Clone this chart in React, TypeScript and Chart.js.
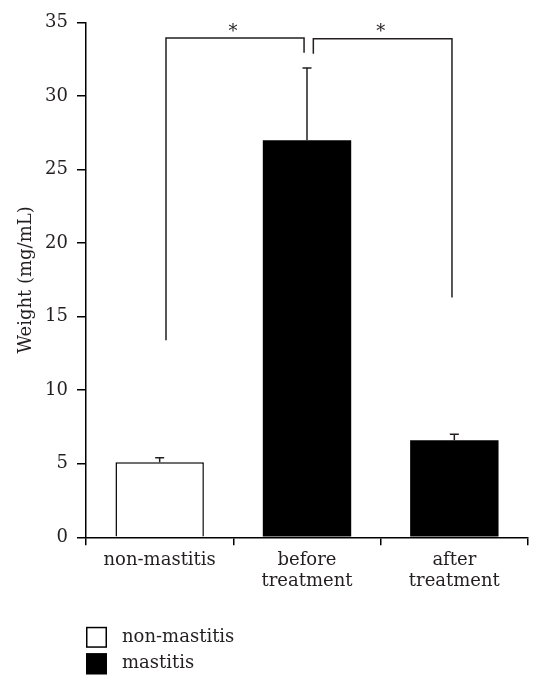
import React, { useEffect, useRef } from 'react';
import { Chart, registerables } from 'chart.js';

Chart.register(...registerables);

const categories: (string | string[])[] = ['non-mastitis', ['before', 'treatment'], ['after', 'treatment']];
const nonMastitisValues: (number | null)[] = [5.1, null, null];
const mastitisValues: (number | null)[] = [null, 27.0, 6.6];
const errorValues: number[] = [0.3, 4.9, 0.4];
const seriesLabels = ['non-mastitis', 'mastitis'];
const yTickValues = [0, 5, 10, 15, 20, 25, 30, 35];
const yTitle = 'Weight (mg/mL)';
// significance brackets in data units (category index + fraction of category width, y value)
const bracketFrom = [0, 1];
const bracketTo = [1, 2];
const bracketFromOffset = [0.043, 0.043];
const bracketToOffset = [-0.02, -0.016];
const bracketFromLow = [13.4, 32.88];
const bracketToLow = [32.95, 16.3];
const bracketTop = [33.95, 33.9];
const bracketLabels = ['*', '*'];

const FONT = '"DejaVu Serif", "Liberation Serif", serif';
const INK = '#231f20';

const errorBarPlugin = {
  id: 'errorBars',
  afterDatasetsDraw(chart: any) {
    const { ctx, scales } = chart;
    const x = scales.x;
    const y = scales.y;
    ctx.save();
    ctx.strokeStyle = INK;
    ctx.lineWidth = 1.5;
    errorValues.forEach((err, i) => {
      const v = nonMastitisValues[i] ?? mastitisValues[i];
      if (v == null) return;
      const px = x.getPixelForValue(i);
      const y0 = y.getPixelForValue(v);
      const y1 = y.getPixelForValue(v + err);
      ctx.beginPath();
      ctx.moveTo(px, y0);
      ctx.lineTo(px, y1);
      ctx.moveTo(px - 4.5, y1);
      ctx.lineTo(px + 4.5, y1);
      ctx.stroke();
    });
    ctx.restore();
  },
};

const bracketPlugin = {
  id: 'brackets',
  afterDatasetsDraw(chart: any) {
    const { ctx, scales } = chart;
    const x = scales.x;
    const y = scales.y;
    const cw = x.getPixelForValue(1) - x.getPixelForValue(0);
    ctx.save();
    ctx.strokeStyle = INK;
    ctx.lineWidth = 1.5;
    ctx.fillStyle = INK;
    ctx.font = `18px ${FONT}`;
    ctx.textAlign = 'center';
    ctx.textBaseline = 'middle';
    bracketFrom.forEach((f, i) => {
      const x1 = x.getPixelForValue(f) + bracketFromOffset[i] * cw;
      const x2 = x.getPixelForValue(bracketTo[i]) + bracketToOffset[i] * cw;
      const yt = y.getPixelForValue(bracketTop[i]);
      ctx.beginPath();
      ctx.moveTo(x1, y.getPixelForValue(bracketFromLow[i]));
      ctx.lineTo(x1, yt);
      ctx.lineTo(x2, yt);
      ctx.lineTo(x2, y.getPixelForValue(bracketToLow[i]));
      ctx.stroke();
      ctx.fillText(bracketLabels[i], (x1 + x2) / 2 - 2, yt - 6);
    });
    ctx.restore();
  },
};

const legendPlugin = {
  id: 'customLegend',
  afterDraw(chart: any) {
    const { ctx, chartArea } = chart;
    const left = chartArea.left;
    const top0 = chartArea.bottom + 89.5;
    const box = 21;
    const fills = ['#ffffff', '#000000'];
    ctx.save();
    ctx.font = `18px ${FONT}`;
    ctx.textAlign = 'left';
    ctx.textBaseline = 'middle';
    seriesLabels.forEach((label, i) => {
      const top = top0 + i * 26.5;
      ctx.fillStyle = fills[i];
      ctx.fillRect(left, top, box, box);
      ctx.strokeStyle = '#000';
      ctx.lineWidth = 1.5;
      ctx.strokeRect(left + 0.75, top + 0.75, box - 1.5, box - 1.5);
      ctx.fillStyle = INK;
      ctx.fillText(label, left + 36, top + box / 2);
    });
    ctx.restore();
  },
};

export default function App() {
  const ref = useRef<HTMLCanvasElement | null>(null);
  useEffect(() => {
    if (!ref.current) return;
    const chart = new Chart(ref.current, {
      type: 'bar',
      data: {
        labels: categories as any,
        datasets: [
          {
            label: seriesLabels[0],
            data: nonMastitisValues as any,
            backgroundColor: '#ffffff',
            borderColor: '#000000',
            borderWidth: 1.5,
            barPercentage: 0.6,
            categoryPercentage: 1,
            grouped: false,
            skipNull: true,
          } as any,
          {
            label: seriesLabels[1],
            data: mastitisValues as any,
            backgroundColor: '#000000',
            borderColor: '#000000',
            borderWidth: 0,
            barPercentage: 0.6,
            categoryPercentage: 1,
            grouped: false,
            skipNull: true,
          } as any,
        ],
      },
      options: {
        animation: false,
        responsive: true,
        maintainAspectRatio: false,
        layout: { padding: { top: 22.5, right: 15, bottom: 100, left: 0 } },
        plugins: {
          legend: { display: false },
          tooltip: { enabled: false },
        },
        scales: {
          x: {
            type: 'category',
            offset: true,
            afterFit: (s: any) => { s.height = 52.7; },
            grid: {
              display: true,
              offset: true,
              drawOnChartArea: false,
              drawTicks: true,
              tickLength: 8,
              color: '#000',
              lineWidth: 1.5,
            },
            border: { display: true, color: '#000', width: 1.5 },
            ticks: {
              color: INK,
              font: { family: FONT, size: 18, lineHeight: 1.2 },
              padding: 4,
              maxRotation: 0,
              autoSkip: false,
            },
          },
          y: {
            min: 0,
            max: 35,
            afterFit: (s: any) => { s.width = 86; },
            afterBuildTicks: (s: any) => { s.ticks = yTickValues.map((v) => ({ value: v })); },
            grid: {
              display: true,
              drawOnChartArea: false,
              drawTicks: true,
              tickLength: 9,
              color: '#000',
              lineWidth: 1.5,
            },
            border: { display: true, color: '#000', width: 1.5 },
            ticks: {
              color: INK,
              font: { family: FONT, size: 18 },
              padding: 9,
            },
            title: {
              display: true,
              text: yTitle,
              color: INK,
              font: { family: FONT, size: 18 },
              padding: { top: 16, bottom: 0 },
            },
          },
        },
      },
      plugins: [errorBarPlugin, bracketPlugin, legendPlugin],
    } as any);
    return () => chart.destroy();
  }, []);
  return (
    <div style={{ position: 'fixed', left: 0, top: 0, width: 543, height: 690, background: '#fff' }}>
      <canvas ref={ref} />
    </div>
  );
}
